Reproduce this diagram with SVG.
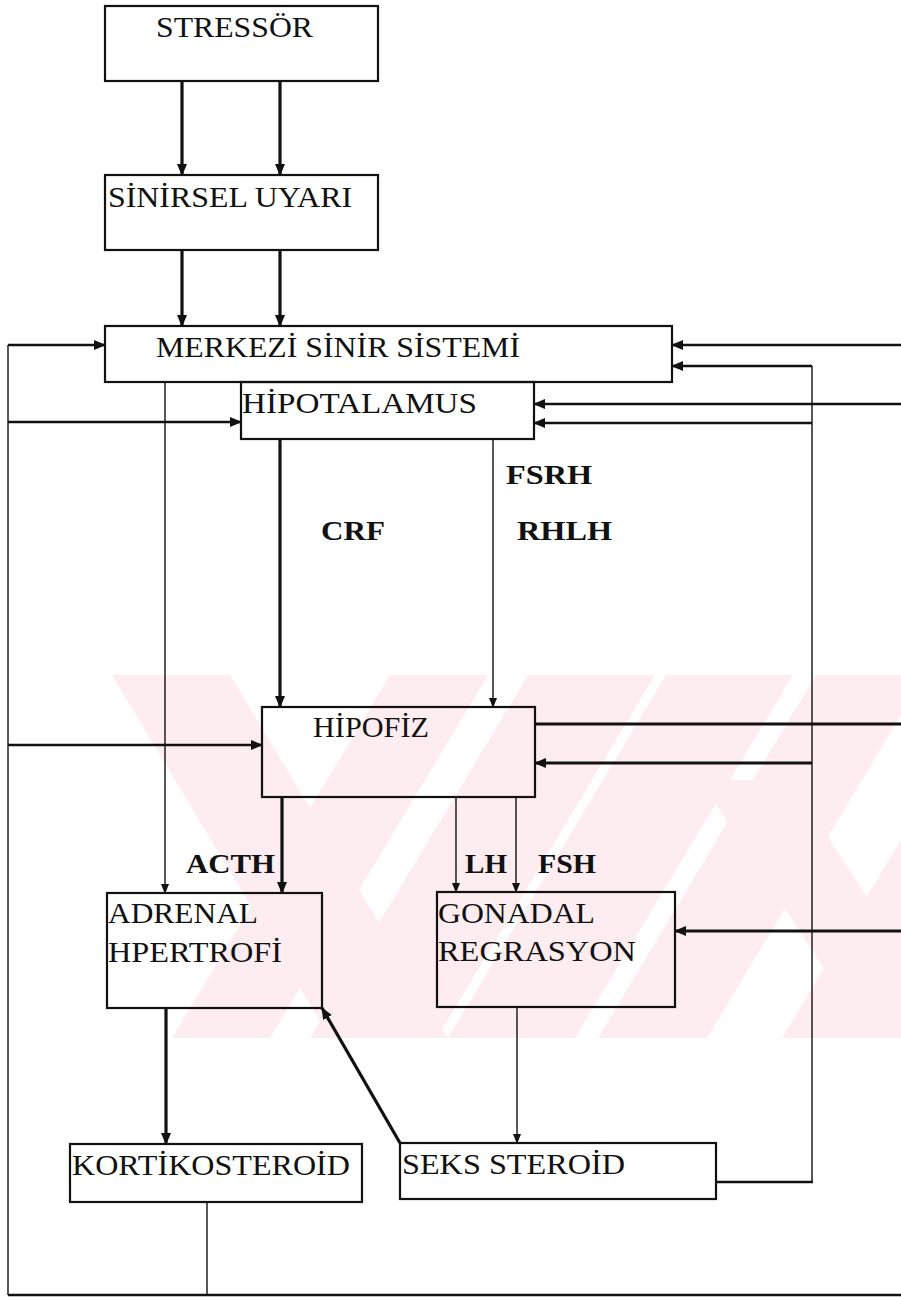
<svg xmlns="http://www.w3.org/2000/svg" width="901" height="1297" viewBox="0 0 901 1297">
<style>
.box{fill:none;stroke:#111;stroke-width:2.2}
.t{font-family:"Liberation Serif","Times New Roman",serif;font-size:30px;fill:#111}
.b{font-family:"Liberation Serif","Times New Roman",serif;font-size:28px;font-weight:bold;fill:#111}
.c{fill:none;stroke:#111}
.thin{stroke-width:1.4}
.med{stroke-width:2.4}
.thick{stroke-width:3.2}
.wm{fill:#fdedf0}
</style>
<defs>
<marker id="ah" markerUnits="userSpaceOnUse" markerWidth="12" markerHeight="10" refX="11" refY="5" orient="auto">
<path d="M0,0 L12,5 L0,10 z" fill="#111"/>
</marker>
<marker id="ahs" markerUnits="userSpaceOnUse" markerWidth="10" markerHeight="8" refX="9" refY="4" orient="auto">
<path d="M0,0 L10,4 L0,8 z" fill="#111"/>
</marker>
<clipPath id="wmclip"><rect x="110" y="675" width="791" height="363"/></clipPath>
</defs>
<rect width="901" height="1297" fill="#fff"/>
<g id="watermark" clip-path="url(#wmclip)">
<polygon class="wm" points="112,675 230,675 448,1038 330,1038"/>
<polygon class="wm" points="390,675 488,675 270,1038 172,1038"/>
<polygon class="wm" points="528,675 655,675 437,1038 310,1038"/>
<polygon class="wm" points="666,675 793,675 575,1038 448,1038"/>
<polygon class="wm" points="816,675 925,675 707,1038 598,1038"/>
<polygon class="wm" points="1000,675 1120,675 900,1038 782,1038"/>
<polygon class="wm" points="700,780 790,780 960,1038 870,1038"/>
</g>
<g id="connectors">
<path class="c thick" d="M182,81 V175" marker-end="url(#ah)"/>
<path class="c thick" d="M280,81 V175" marker-end="url(#ah)"/>
<path class="c thick" d="M182,250 V326" marker-end="url(#ah)"/>
<path class="c thick" d="M280,250 V326" marker-end="url(#ah)"/>
<path class="c thin" d="M8,345 V1295"/>
<path class="c med" d="M8,345 H105" marker-end="url(#ah)"/>
<path class="c med" d="M8,422 H241" marker-end="url(#ah)"/>
<path class="c med" d="M8,745 H262" marker-end="url(#ah)"/>
<path class="c med" d="M8,1295 H901"/>
<path class="c thin" d="M207,1202 V1295"/>
<path class="c thin" d="M812,366 V1182"/>
<path class="c med" d="M901,345 H672" marker-end="url(#ah)"/>
<path class="c med" d="M812,366 H672" marker-end="url(#ah)"/>
<path class="c med" d="M901,404 H534" marker-end="url(#ah)"/>
<path class="c med" d="M812,423 H534" marker-end="url(#ah)"/>
<path class="c thick" d="M535,724 H901"/>
<path class="c thick" d="M812,763 H535" marker-end="url(#ah)"/>
<path class="c thick" d="M901,931 H675" marker-end="url(#ah)"/>
<path class="c med" d="M716,1182 H813"/>
<path class="c thin" d="M165,382 V893" marker-end="url(#ahs)"/>
<path class="c thick" d="M280,439 V707" marker-end="url(#ah)"/>
<path class="c thin" d="M493,439 V707" marker-end="url(#ahs)"/>
<path class="c thick" d="M282,797 V893" marker-end="url(#ah)"/>
<path class="c thin" d="M456,797 V892" marker-end="url(#ahs)"/>
<path class="c thin" d="M516,797 V892" marker-end="url(#ahs)"/>
<path class="c thick" d="M166,1008 V1144" marker-end="url(#ah)"/>
<path class="c thin" d="M517,1007 V1143" marker-end="url(#ahs)"/>
<path class="c thick" d="M400,1143 L322,1008" marker-end="url(#ah)"/>
</g>
<g id="stressor"><rect class="box" x="105" y="6" width="273" height="75"/><text class="t" x="156" y="37" textLength="157" lengthAdjust="spacingAndGlyphs">STRESSÖR</text></g>
<g id="sinirsel"><rect class="box" x="105" y="175" width="273" height="75"/><text class="t" x="108" y="207" textLength="244" lengthAdjust="spacingAndGlyphs">SİNİRSEL UYARI</text></g>
<g id="merkezi"><rect class="box" x="105" y="326" width="567" height="56"/><text class="t" x="156" y="357" textLength="364" lengthAdjust="spacingAndGlyphs">MERKEZİ SİNİR SİSTEMİ</text></g>
<g id="hipotalamus"><rect class="box" x="241" y="382" width="293" height="57"/><text class="t" x="242" y="413" textLength="235" lengthAdjust="spacingAndGlyphs">HİPOTALAMUS</text></g>
<g id="labels-hormones">
<text class="b" x="506" y="484" textLength="86" lengthAdjust="spacingAndGlyphs">FSRH</text>
<text class="b" x="321" y="540" textLength="64" lengthAdjust="spacingAndGlyphs">CRF</text>
<text class="b" x="517" y="540" textLength="95" lengthAdjust="spacingAndGlyphs">RHLH</text>
<text class="b" x="186" y="873" textLength="89" lengthAdjust="spacingAndGlyphs">ACTH</text>
<text class="b" x="465" y="873" textLength="42" lengthAdjust="spacingAndGlyphs">LH</text>
<text class="b" x="538" y="873" textLength="58" lengthAdjust="spacingAndGlyphs">FSH</text>
</g>
<g id="hipofiz"><rect class="box" x="262" y="707" width="273" height="90"/><text class="t" x="313" y="737" textLength="116" lengthAdjust="spacingAndGlyphs">HİPOFİZ</text></g>
<g id="adrenal"><rect class="box" x="107" y="893" width="215" height="115"/><text class="t" x="108" y="923" textLength="150" lengthAdjust="spacingAndGlyphs">ADRENAL</text><text class="t" x="108" y="962" textLength="174" lengthAdjust="spacingAndGlyphs">HPERTROFİ</text></g>
<g id="gonadal"><rect class="box" x="437" y="892" width="238" height="115"/><text class="t" x="438" y="923" textLength="157" lengthAdjust="spacingAndGlyphs">GONADAL</text><text class="t" x="438" y="961" textLength="198" lengthAdjust="spacingAndGlyphs">REGRASYON</text></g>
<g id="kortikosteroid"><rect class="box" x="70" y="1144" width="292" height="58"/><text class="t" x="72" y="1175" textLength="278" lengthAdjust="spacingAndGlyphs">KORTİKOSTEROİD</text></g>
<g id="seks-steroid"><rect class="box" x="400" y="1143" width="316" height="56"/><text class="t" x="402" y="1174" textLength="223" lengthAdjust="spacingAndGlyphs">SEKS STEROİD</text></g>
</svg>
